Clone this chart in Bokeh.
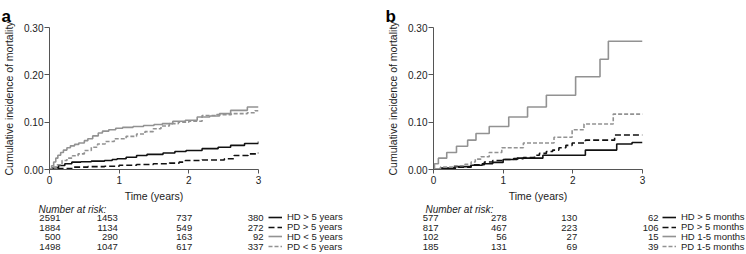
from bokeh.plotting import figure
from bokeh.models import (Range1d, FixedTicker, NumeralTickFormatter, ColumnDataSource,
                          Legend, LegendItem)
from bokeh.layouts import row, column
from bokeh.embed import file_html
from bokeh.resources import INLINE
from bokeh.core.properties import value

# ---------------- data ----------------
times = [0, 1, 2, 3]

# Panel a : vintage in years
labels_a = ["HD > 5 years", "PD > 5 years", "HD < 5 years", "PD < 5 years"]
risk_a_hd_gt5 = [2591, 1453, 737, 380]
risk_a_pd_gt5 = [1884, 1134, 549, 272]
risk_a_hd_lt5 = [500, 290, 163, 92]
risk_a_pd_lt5 = [1498, 1047, 617, 337]

t_a_hd_gt5 = [0, 0.05, 0.13, 0.22, 0.32, 0.45, 0.6, 0.79, 0.9, 0.97, 1.1, 1.25, 1.4, 1.63, 1.8,
              1.96, 2.19, 2.42, 2.6, 2.8, 3.0]
v_a_hd_gt5 = [0, 0.004, 0.0085, 0.012, 0.0155, 0.0165, 0.0176, 0.019, 0.021, 0.0226, 0.026,
              0.0297, 0.032, 0.035, 0.038, 0.040, 0.044, 0.047, 0.051, 0.055, 0.059]

t_a_pd_gt5 = [0, 0.1, 0.32, 0.55, 0.79, 1.0, 1.25, 1.49, 1.72, 1.86, 1.95, 2.19, 2.51, 2.65,
              2.85, 3.0]
v_a_pd_gt5 = [0, 0.002, 0.005, 0.006, 0.007, 0.009, 0.0106, 0.012, 0.0134, 0.0155, 0.019,
              0.020, 0.0226, 0.0297, 0.033, 0.036]

t_a_hd_lt5 = [0, 0.03, 0.06, 0.09, 0.12, 0.16, 0.2, 0.25, 0.3, 0.36, 0.42, 0.5, 0.55, 0.62,
              0.7, 0.76, 0.85, 0.95, 1.05, 1.2, 1.35, 1.5, 1.62, 1.77, 1.95, 2.12, 2.3, 2.44,
              2.6, 2.84, 3.0]
v_a_hd_lt5 = [0, 0.008, 0.016, 0.024, 0.03, 0.036, 0.041, 0.046, 0.05, 0.053, 0.056, 0.061,
              0.065, 0.071, 0.077, 0.081, 0.084, 0.087, 0.089, 0.091, 0.093, 0.095, 0.097,
              0.102, 0.104, 0.111, 0.113, 0.118, 0.125, 0.132, 0.132]

t_a_pd_lt5 = [0, 0.05, 0.1, 0.18, 0.25, 0.33, 0.41, 0.5, 0.6, 0.69, 0.8, 0.93, 1.1, 1.25,
              1.37, 1.49, 1.6, 1.72, 1.85, 2.0, 2.19, 2.4, 2.61, 2.84, 2.95, 3.0]
v_a_pd_lt5 = [0, 0.005, 0.01, 0.019, 0.024, 0.029, 0.033, 0.040, 0.047, 0.054, 0.059, 0.065,
              0.070, 0.075, 0.080, 0.086, 0.092, 0.097, 0.100, 0.102, 0.114, 0.116, 0.118,
              0.120, 0.124, 0.124]

# Panel b : vintage in months
labels_b = ["HD > 5 months", "PD > 5 months", "HD 1-5 months", "PD 1-5 months"]
risk_b_hd_gt5 = [577, 278, 130, 62]
risk_b_pd_gt5 = [817, 467, 223, 106]
risk_b_hd_15 = [102, 56, 27, 15]
risk_b_pd_15 = [185, 131, 69, 39]

t_b_hd_gt5 = [0, 0.1, 0.3, 0.54, 0.7, 0.85, 1.0, 1.2, 1.57, 2.18, 2.63, 2.85, 3.0]
v_b_hd_gt5 = [0, 0.003, 0.006, 0.009, 0.012, 0.015, 0.021, 0.024, 0.030, 0.041, 0.054, 0.057,
              0.057]

t_b_pd_gt5 = [0, 0.15, 0.35, 0.54, 0.73, 0.85, 1.0, 1.15, 1.29, 1.45, 1.52, 1.62, 1.71, 1.8,
              1.9, 1.99, 2.18, 2.6, 3.0]
v_b_pd_gt5 = [0, 0.003, 0.005, 0.010, 0.016, 0.019, 0.021, 0.023, 0.025, 0.030, 0.034, 0.038,
              0.041, 0.046, 0.051, 0.056, 0.062, 0.073, 0.073]

t_b_hd_15 = [0, 0.014, 0.07, 0.19, 0.33, 0.49, 0.61, 0.80, 1.08, 1.35, 1.62, 2.04, 2.39, 2.51,
             3.0]
v_b_hd_15 = [0, 0.012, 0.024, 0.036, 0.049, 0.062, 0.076, 0.091, 0.111, 0.132, 0.157, 0.196,
             0.233, 0.271, 0.271]

t_b_pd_15 = [0, 0.1, 0.3, 0.45, 0.54, 0.6, 0.68, 0.8, 0.98, 1.29, 1.73, 1.99, 2.16, 2.58, 3.0]
v_b_pd_15 = [0, 0.005, 0.008, 0.011, 0.016, 0.022, 0.027, 0.036, 0.046, 0.056, 0.068, 0.084,
             0.096, 0.117, 0.117]

y_ticks = [0, 0.10, 0.20, 0.30]

# ---------------- style / layout ----------------
FONT = "Liberation Sans"
TXT = "#222222"
AXC = "#555555"
BLACK = "#111111"
GRAY = "#929292"
STYLES = [(BLACK, "solid"), (BLACK, "6 3"), (GRAY, "solid"), (GRAY, "4 2")]
LW = 1.6
NAN = float("nan")

LEFT = 44
FRAME_W = 214
FRAME_H = 142
TOP = 27
PLOT_H = 204
TABLE_H = 50
ROW0 = 13.3      # px from table top to first row centre
ROW_DY = 9.8     # px between rows
HEADER_Y = 5.0   # px from table top to "Number at risk:" centre
ITEM_H = 10


def make_panel(letter, curves, risks, labels, W, col_dx, header_dx, leg_x):
    p = figure(width=W, height=PLOT_H, x_range=Range1d(0, 3), y_range=Range1d(0, 0.30),
               output_backend="svg", toolbar_location=None, title=letter,
               min_border_left=LEFT, min_border_right=W - LEFT - FRAME_W,
               min_border_top=TOP, min_border_bottom=PLOT_H - TOP - FRAME_H)
    p.frame_align = False
    p.title.text_font = FONT
    p.title.text_font_size = "17px"
    p.title.text_font_style = "bold"
    p.title.text_color = "#000000"
    p.title.align = "left"
    p.title.vertical_align = "top"
    p.title.offset = -LEFT - 4
    p.title.standoff = 0
    p.grid.visible = False
    p.outline_line_color = None
    p.background_fill_color = "white"

    for (t, v), (col, dash) in zip(curves, STYLES):
        p.step(t, v, mode="after", line_color=col, line_dash=dash, line_width=LW)

    for ax in (p.xaxis[0], p.yaxis[0]):
        ax.axis_line_color = AXC
        ax.major_tick_line_color = AXC
        ax.minor_tick_line_color = None
        ax.major_tick_in = 0
        ax.major_label_text_font = FONT
        ax.major_label_text_font_size = "10px"
        ax.major_label_text_color = TXT
        ax.axis_label_text_font = FONT
        ax.axis_label_text_font_style = "normal"
        ax.axis_label_text_color = TXT
    p.xaxis.ticker = FixedTicker(ticks=times)
    p.xaxis.major_tick_out = 4
    p.xaxis.major_label_standoff = 2
    p.xaxis.axis_label = "Time (years)"
    p.xaxis.axis_label_text_font_size = "10.5px"
    p.xaxis.axis_label_standoff = 3
    p.yaxis.ticker = FixedTicker(ticks=y_ticks)
    p.yaxis.formatter = NumeralTickFormatter(format="0.00")
    p.yaxis.major_tick_out = 5
    p.yaxis.major_label_standoff = 1
    p.yaxis.axis_label = "Cumulative incidence of mortality"
    p.yaxis.axis_label_text_font_size = "10.5px"
    p.yaxis.axis_label_standoff = 6

    # ---- number-at-risk table, on the same time scale ----
    scale = FRAME_W / 3.0
    tab = figure(width=W, height=TABLE_H,
                 x_range=Range1d(-LEFT / scale, (W - LEFT) / scale),
                 y_range=Range1d((TABLE_H - ROW0) / ROW_DY, -ROW0 / ROW_DY),
                 output_backend="svg", toolbar_location=None,
                 x_axis_location=None, y_axis_location=None, min_border=0)
    tab.frame_align = False
    tab.grid.visible = False
    tab.outline_line_color = None

    xs, ys, ns, dxs = [], [], [], []
    for i, r in enumerate(risks):
        for j, (t, n) in enumerate(zip(times, r)):
            xs.append(t)
            ys.append(i)
            ns.append(str(n))
            dxs.append(col_dx[j])
    src = ColumnDataSource(dict(x=xs, y=ys, text=ns, dx=dxs))
    tab.text(x="x", y="y", text="text", x_offset="dx", source=src, text_align="right",
             text_baseline="middle", text_font=value(FONT), text_font_size="9.5px",
             text_color=TXT)
    tab.text(x=[0], y=[(HEADER_Y - ROW0) / ROW_DY], text=["Number at risk:"],
             x_offset=header_dx, text_align="left", text_baseline="middle",
             text_font=value(FONT), text_font_size="10px", text_font_style="italic",
             text_color=TXT)

    for i, (lab, (col, dash)) in enumerate(zip(labels, STYLES)):
        # legend swatch only (a single NaN point draws nothing in the table)
        r = tab.line(x=[NAN], y=[NAN], line_color=col, line_dash=dash, line_width=LW)
        leg = Legend(items=[LegendItem(label=lab, renderers=[r])],
                     location=(leg_x, TABLE_H - (ROW0 + ROW_DY * i) - ITEM_H / 2),
                     border_line_color=None, background_fill_alpha=0, padding=0,
                     margin=0, spacing=0, glyph_width=14, glyph_height=ITEM_H,
                     label_height=ITEM_H, label_standoff=5, label_text_font=FONT,
                     label_text_font_size="9.5px", label_text_color=TXT)
        tab.add_layout(leg)
    return column(p, tab)


W_A = 384
W_B = 362

panel_a = make_panel(
    "a",
    [(t_a_hd_gt5, v_a_hd_gt5), (t_a_pd_gt5, v_a_pd_gt5),
     (t_a_hd_lt5, v_a_hd_lt5), (t_a_pd_lt5, v_a_pd_lt5)],
    [risk_a_hd_gt5, risk_a_pd_gt5, risk_a_hd_lt5, risk_a_pd_lt5],
    labels_a, W_A, [16, 2, 5, 5], -6, 268)

panel_b = make_panel(
    "b",
    [(t_b_hd_gt5, v_b_hd_gt5), (t_b_pd_gt5, v_b_pd_gt5),
     (t_b_hd_15, v_b_hd_15), (t_b_pd_15, v_b_pd_15)],
    [risk_b_hd_gt5, risk_b_pd_gt5, risk_b_hd_15, risk_b_pd_15],
    labels_b, W_B, [10, 7, 6, 16], -3, 278)

layout = row(panel_a, panel_b)
open("out.html", "w").write(file_html(layout, INLINE))
